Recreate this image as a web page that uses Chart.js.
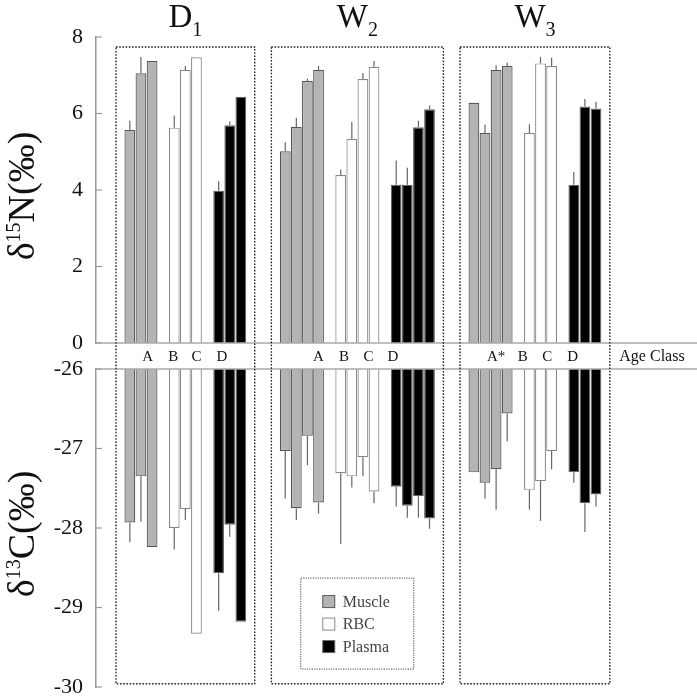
<!DOCTYPE html>
<html>
<head>
<meta charset="utf-8">
<script src="https://cdn.jsdelivr.net/npm/chart.js@4.4.1/dist/chart.umd.min.js"></script>
<style>
    html, body { margin: 0; padding: 0; background: #fff; }
    canvas { display: block; }
</style>
</head>
<body>
<canvas id="chart" width="697" height="696"></canvas>
<script>
// group titles (letter + subscript)
const groupNames = ["D", "W", "W"];
const groupSubs = ["1", "2", "3"];

// how many age-class bars each tissue has in each group
const muscleCount = [3, 4, 4];
const rbcCount = [3, 4, 3];
const plasmaCount = [3, 4, 3];

// d15N (‰) means and sd
const muscleN = [5.57, 7.05, 7.37, 5.01, 5.65, 6.85, 7.14, 6.28, 5.49, 7.14, 7.24];
const muscleNsd = [0.24, 0.43, 0, 0.24, 0.23, 0.06, 0.10, 0, 0.22, 0.12, 0.09];
const rbcN = [5.63, 7.14, 7.47, 4.39, 5.34, 6.90, 7.22, 5.49, 7.31, 7.24];
const rbcNsd = [0.31, 0.10, 0, 0.14, 0.44, 0.16, 0.15, 0.23, 0.17, 0.22];
const plasmaN = [3.98, 5.69, 6.44, 4.14, 4.14, 5.64, 6.11, 4.14, 6.18, 6.13];
const plasmaNsd = [0.25, 0.10, 0, 0.63, 0.44, 0.17, 0.10, 0.33, 0.20, 0.18];

// d13C (‰) means and sd
const muscleC = [-27.93, -27.35, -28.24, -27.03, -27.75, -26.84, -27.68, -27.30, -27.43, -27.26, -26.56];
const muscleCsd = [0.25, 0.57, 0, 0.60, 0.15, 0.37, 0.14, 0, 0.20, 0.51, 0.35];
const rbcC = [-28.00, -27.76, -29.33, -27.31, -27.35, -27.11, -27.54, -27.52, -27.41, -27.03];
const rbcCsd = [0.27, 0.14, 0, 0.89, 0.14, 0.24, 0.15, 0.25, 0.50, 0.23];
const plasmaC = [-28.57, -27.96, -29.18, -27.48, -27.72, -27.60, -27.88, -27.30, -27.69, -27.58];
const plasmaCsd = [0.47, 0.15, 0, 0.25, 0.15, 0.27, 0.13, 0.13, 0.36, 0.15];

// age class labels in the middle band (x in bar slots)
const ageLabels = ["A", "B", "C", "D", "A", "B", "C", "D", "A*", "B", "C", "D"];
const ageLabelX = [1.6, 3.9, 6.0, 8.3, 17.0, 19.3, 21.5, 23.7, 33.0, 35.4, 37.6, 39.9];

const nTicks = [0, 2, 4, 6, 8];
const cTicks = [-30, -29, -28, -27, -26];

const SERIF = "'Liberation Serif', 'Times New Roman', serif";

// bar slots: 1 empty slot between tissues, 3 between groups
const slots = { m: [], r: [], p: [] };
const groupRange = [];
let s = 0;
for (let g = 0; g < groupNames.length; g++) {
    const first = s;
    [["m", muscleCount], ["r", rbcCount], ["p", plasmaCount]].forEach(([k, cnt]) => {
        for (let i = 0; i < cnt[g]; i++) slots[k].push(s++);
        s += 1;
    });
    groupRange.push([first, s - 2]);
    s += 2;
}

function barData(xs, vals, floatBase) {
    return vals.map((v, i) => ({ x: xs[i], y: floatBase === undefined ? v : [floatBase, v] }));
}

function makeSet(label, xs, vals, sd, axis, fill, border) {
    return {
        label,
        data: barData(xs, vals, axis === "yC" ? -26 : undefined),
        sd,
        yAxisID: axis,
        backgroundColor: fill,
        borderColor: border,
        borderWidth: 1.2,
        grouped: false,
        categoryPercentage: 1,
        barPercentage: 0.97
    };
}

function drawRich(ctx, parts, x, y) {
    let w = 0;
    parts.forEach(p => {
        ctx.font = p.size + "px " + SERIF;
        p.w = ctx.measureText(p.text).width;
        w += p.w;
    });
    let cx = x - w / 2;
    ctx.textAlign = "left";
    parts.forEach(p => {
        ctx.font = p.size + "px " + SERIF;
        ctx.fillText(p.text, cx, y - (p.rise || 0));
        cx += p.w;
    });
}

const errorBars = {
    id: "errorBars",
    afterDatasetsDraw(chart) {
        const ctx = chart.ctx;
        ctx.save();
        ctx.strokeStyle = "#666";
        ctx.lineWidth = 1.2;
        chart.data.datasets.forEach((ds, i) => {
            const meta = chart.getDatasetMeta(i);
            const scale = chart.scales[ds.yAxisID];
            meta.data.forEach((bar, j) => {
                const sd = ds.sd[j];
                if (!sd) return;
                const raw = ds.data[j].y;
                const v = Array.isArray(raw) ? raw[1] : raw;
                const base = Array.isArray(raw) ? raw[0] : 0;
                const end = v + Math.sign(v - base) * sd;
                ctx.beginPath();
                ctx.moveTo(bar.x, scale.getPixelForValue(v));
                ctx.lineTo(bar.x, scale.getPixelForValue(end));
                ctx.stroke();
            });
        });

        // zero line and -26 line across the plot
        const yN = chart.scales.yN, yC = chart.scales.yC, area = chart.chartArea;
        ctx.strokeStyle = "#aaa";
        ctx.lineWidth = 1.6;
        [yN.bottom, yC.top].forEach(y => {
            ctx.beginPath();
            ctx.moveTo(area.left, y);
            ctx.lineTo(area.right, y);
            ctx.stroke();
        });
        ctx.restore();
    }
};

const decorations = {
    id: "decorations",
    afterDraw(chart) {
        const ctx = chart.ctx;
        const xs = chart.scales.x, yN = chart.scales.yN, yC = chart.scales.yC;
        const area = chart.chartArea;
        ctx.save();

        // inward tick marks
        ctx.strokeStyle = "#999";
        ctx.lineWidth = 1.2;
        [yN, yC].forEach(sc => {
            sc.ticks.forEach((t, i) => {
                const y = sc.getPixelForTick(i);
                ctx.beginPath();
                ctx.moveTo(sc.right, y);
                ctx.lineTo(sc.right + 6, y);
                ctx.stroke();
            });
        });

        // dotted group boxes
        ctx.strokeStyle = "#222";
        ctx.lineWidth = 1.4;
        ctx.setLineDash([1.6, 1.6]);
        groupRange.forEach(([a, b]) => {
            const l = xs.getPixelForValue(a - 1.25);
            const r = xs.getPixelForValue(b + 1.25);
            const t = yN.getPixelForValue(7.74);
            const btm = yC.getPixelForValue(-29.96);
            ctx.strokeRect(l, t, r - l, btm - t);
        });

        // group titles
        ctx.fillStyle = "#111";
        ctx.textBaseline = "alphabetic";
        groupRange.forEach(([a, b], g) => {
            const cx = (xs.getPixelForValue(a - 1.25) + xs.getPixelForValue(b + 1.25)) / 2;
            drawRich(ctx, [
                { text: groupNames[g], size: 33 },
                { text: groupSubs[g], size: 20, rise: -9 }
            ], cx, 27);
        });

        // age class labels
        const midY = (yN.bottom + yC.top) / 2;
        ctx.setLineDash([]);
        ctx.font = "15px " + SERIF;
        ctx.textAlign = "center";
        ctx.textBaseline = "middle";
        ctx.fillStyle = "#111";
        ageLabels.forEach((lab, i) => {
            ctx.fillText(lab, xs.getPixelForValue(ageLabelX[i]), midY + 1);
        });
        ctx.font = "16px " + SERIF;
        ctx.textAlign = "left";
        ctx.fillText("Age Class", xs.getPixelForValue(44.1), midY + 1);

        // y axis titles
        ctx.fillStyle = "#111";
        ctx.textBaseline = "alphabetic";
        [[yN, "15", "N(‰)"], [yC, "13", "C(‰)"]].forEach(([sc, iso, rest]) => {
            ctx.save();
            ctx.translate(34, (sc.top + sc.bottom) / 2 + 6);
            ctx.rotate(-Math.PI / 2);
            drawRich(ctx, [
                { text: "δ", size: 38 },
                { text: iso, size: 20, rise: 14 },
                { text: rest, size: 38 }
            ], 0, 0);
            ctx.restore();
        });

        // legend
        const lx = xs.getPixelForValue(15.4);
        const ly = yC.getPixelForValue(-28.63);
        ctx.strokeStyle = "#444";
        ctx.lineWidth = 1;
        ctx.setLineDash([1.2, 1.2]);
        ctx.strokeRect(lx, ly, 113, 91);
        ctx.setLineDash([]);
        ctx.font = "16px " + SERIF;
        ctx.textBaseline = "middle";
        ctx.textAlign = "left";
        [0, 1, 2].forEach(i => {
            const ds = chart.data.datasets[i];
            const cy = ly + 23.5 + i * 22.5;
            ctx.fillStyle = ds.backgroundColor;
            ctx.fillRect(lx + 22, cy - 6, 12, 12);
            ctx.strokeStyle = ds.borderColor;
            ctx.strokeRect(lx + 22, cy - 6, 12, 12);
            ctx.fillStyle = "#444";
            ctx.fillText(ds.label, lx + 42, cy + 1);
        });

        ctx.restore();
    }
};

function yAxis(min, max, step, weight, stackWeight, showTicks) {
    return {
        type: "linear",
        position: "left",
        stack: "v",
        stackWeight,
        weight,
        min,
        max,
        ticks: {
            display: showTicks,
            stepSize: step,
            padding: 13,
            color: "#111",
            font: { family: SERIF, size: 22 }
        },
        grid: { display: false, drawTicks: false },
        border: { display: showTicks, color: "#999", width: 1.5 },
        afterFit: sc => {
            sc.width = 96;
            sc.paddingTop = 0;
            sc.paddingBottom = 0;
        }
    };
}

new Chart(document.getElementById("chart"), {
    type: "bar",
    data: {
        datasets: [
            makeSet("Muscle", slots.m, muscleN, muscleNsd, "yN", "#b4b4b4", "#555"),
            makeSet("RBC", slots.r, rbcN, rbcNsd, "yN", "#ffffff", "#888"),
            makeSet("Plasma", slots.p, plasmaN, plasmaNsd, "yN", "#000000", "#666"),
            makeSet("Muscle", slots.m, muscleC, muscleCsd, "yC", "#b4b4b4", "#555"),
            makeSet("RBC", slots.r, rbcC, rbcCsd, "yC", "#ffffff", "#888"),
            makeSet("Plasma", slots.p, plasmaC, plasmaCsd, "yC", "#000000", "#666")
        ]
    },
    options: {
        responsive: false,
        animation: false,
        devicePixelRatio: 1,
        layout: { padding: { top: 37, bottom: 9, left: 0, right: 0 } },
        plugins: {
            legend: { display: false },
            tooltip: { enabled: false }
        },
        scales: {
            x: {
                type: "linear",
                display: false,
                min: -3.05,
                max: 51.1,
                afterBuildTicks: sc => { sc.ticks = []; }
            },
            yN: yAxis(0, 8, 2, 3, 306, true),
            yBand: yAxis(0, 1, 1, 2, 26, false),
            yC: yAxis(-30, -26, 1, 1, 318, true)
        }
    },
    plugins: [errorBars, decorations]
});
</script>
</body>
</html>
